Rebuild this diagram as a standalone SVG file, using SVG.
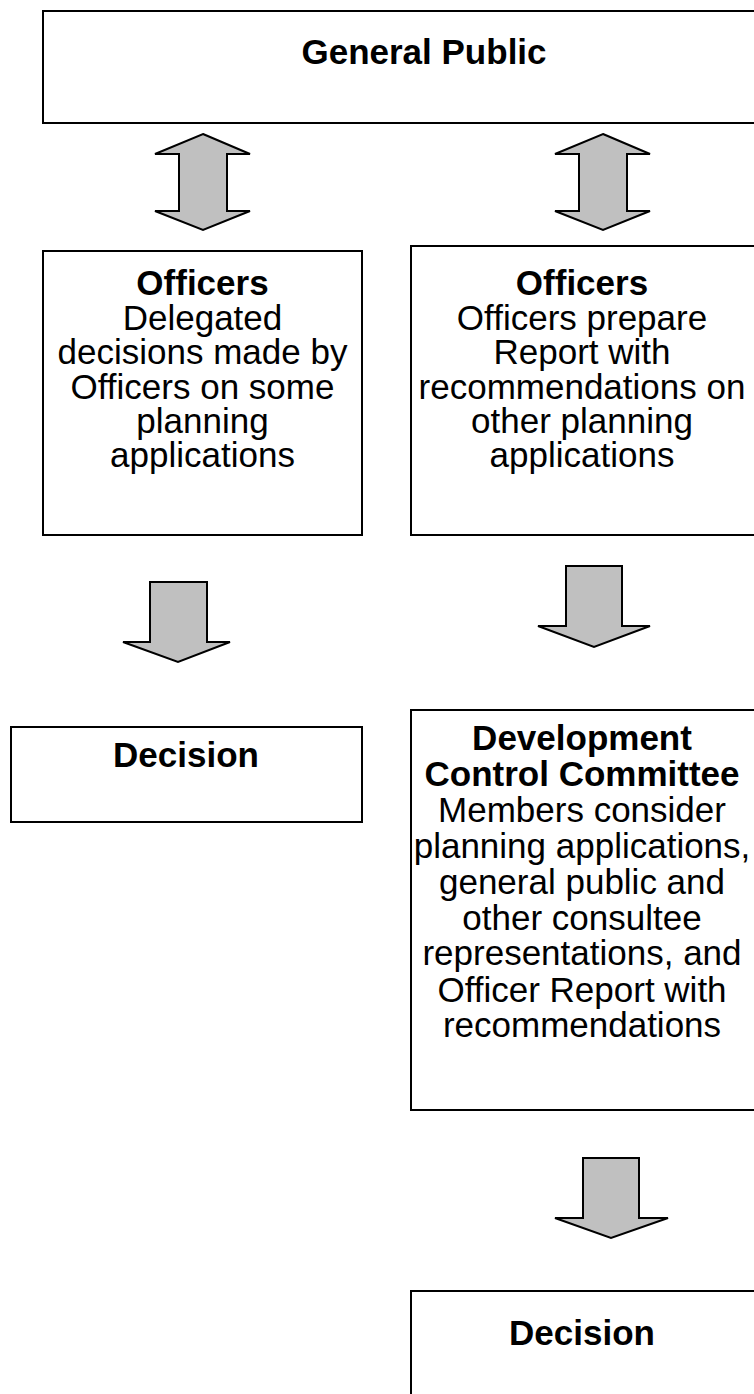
<svg xmlns="http://www.w3.org/2000/svg" width="754" height="1394" viewBox="0 0 754 1394">
<style>
.box{fill:#fff;stroke:#000;stroke-width:2}
.arr{fill:#c0c0c0;stroke:#000;stroke-width:2;stroke-linejoin:miter}
text{font-family:"Liberation Sans",Arial,sans-serif;font-size:35px;fill:#000;text-anchor:middle}
.b{font-weight:bold}
</style>
<rect width="754" height="1394" fill="#fff"/>
<g id="connectors">
<polygon class="arr" points="203,134 250,154 227,154 227,211 250,211 203,230 155,211 179,211 179,154 155,154"/>
<polygon class="arr" points="603,134 650,154 627,154 627,211 650,211 603,230 555,211 579,211 579,154 555,154"/>
<polygon class="arr" points="150,582 207,582 207,642 230,642 178,662 123,642 150,642"/>
<polygon class="arr" points="566,566 622,566 622,626 650,626 594,647 538,626 566,626"/>
<polygon class="arr" points="583,1158 639,1158 639,1218 668,1218 611,1238 555,1218 583,1218"/>
</g>
<g id="general-public">
<rect class="box" x="43" y="11" width="770" height="112"/>
<text class="b" x="424" y="64">General Public</text>
</g>
<g id="officers-left">
<rect class="box" x="43" y="251" width="319" height="284"/>
<text x="202.5"><tspan class="b" x="202.5" y="295">Officers</tspan><tspan x="202.5" y="330">Delegated</tspan><tspan x="202.5" y="364">decisions made by</tspan><tspan x="202.5" y="399">Officers on some</tspan><tspan x="202.5" y="433">planning</tspan><tspan x="202.5" y="467">applications</tspan></text>
</g>
<g id="officers-right">
<rect class="box" x="411" y="246" width="360" height="289"/>
<text x="582"><tspan class="b" x="582" y="295">Officers</tspan><tspan x="582" y="330">Officers prepare</tspan><tspan x="582" y="364">Report with</tspan><tspan x="582" y="399">recommendations on</tspan><tspan x="582" y="433">other planning</tspan><tspan x="582" y="467">applications</tspan></text>
</g>
<g id="decision-left">
<rect class="box" x="11" y="727" width="351" height="95"/>
<text class="b" x="186" y="767">Decision</text>
</g>
<g id="dcc">
<rect class="box" x="411" y="710" width="360" height="400"/>
<text x="582"><tspan class="b" x="582" y="750">Development</tspan><tspan class="b" x="582" y="786">Control Committee</tspan><tspan x="582" y="822">Members consider</tspan><tspan x="582" y="858">planning applications,</tspan><tspan x="582" y="894">general public and</tspan><tspan x="582" y="930">other consultee</tspan><tspan x="582" y="965">representations, and</tspan><tspan x="582" y="1002">Officer Report with</tspan><tspan x="582" y="1037">recommendations</tspan></text>
</g>
<g id="decision-right">
<rect class="box" x="411" y="1291" width="360" height="120"/>
<text class="b" x="582" y="1345">Decision</text>
</g>
</svg>
